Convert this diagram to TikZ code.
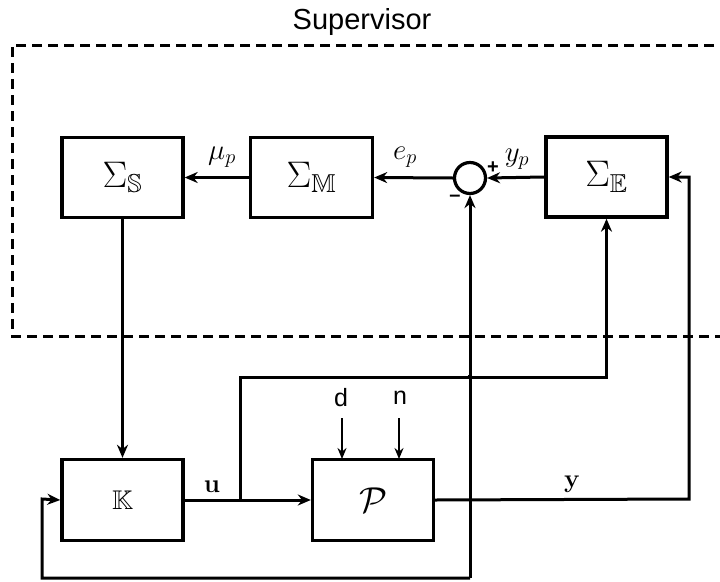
\RequirePackage{fix-cm}
\documentclass[tikz,border=0pt]{standalone}
\usepackage{amssymb}
\usepackage[no-math]{fontspec}
\newfontfamily\arial{Liberation Sans}
\usetikzlibrary{arrows.meta,calc}
\begin{document}
\begin{tikzpicture}[x=1pt,y=-1pt,
  blk/.style={draw,line width=3.4pt,inner sep=0pt,minimum width=121pt,minimum height=80pt,font=\fontsize{37}{40}\selectfont},
  con/.style={line width=3pt,-{Stealth[length=13pt,width=11pt]}},
  thin/.style={line width=2pt,-{Stealth[length=11pt,width=9pt]}},
  lab/.style={inner sep=0pt,font=\fontsize{29}{31}\selectfont},
  blab/.style={inner sep=0pt,font=\fontsize{26}{28}\selectfont},
  sans/.style={inner sep=0pt,font=\arial\fontsize{25}{27}\selectfont}]
\useasboundingbox (0,0) rectangle (720,581);
\fill[white] (0,0) rectangle (720,581);
\node[font=\arial\fontsize{29}{31}\selectfont] (sup) at (362,22) {Supervisor};
\draw[line width=3pt,dash pattern=on 10pt off 6pt] (730,45) -- (12,45) -- (12,336) -- (730,336);
\node[blk] (S) at (122.5,177.5) {$\Sigma_{\mathbb{S}}$};
\node[blk,minimum width=122pt] (M) at (311.5,177.5) {$\Sigma_{\mathbb{M}}$};
\node[blk] (E) at (606.5,177) {$\Sigma_{\mathbb{E}}$};
\node[draw,circle,line width=3.2pt,minimum size=31pt,inner sep=0pt] (sum) at (470,178) {};
\node[blk,minimum height=81pt,font=\fontsize{27}{30}\selectfont] (K) at (122.5,500) {$\mathbb{K}$};
\node[blk,minimum height=81pt,font=\fontsize{36}{40}\selectfont] (P) at (373,500) {$\mathcal{P}$};
% supervisor chain
\draw[con] (E.west) -- (sum.east);
\draw[con] (sum.west) -- (M.east);
\draw[con] (M.west) -- (S.east);
\draw[con] (S.south) -- (K.north);
% labels
\node[lab] (mu) at (222,157) {$\mu_p$};
\node[lab] (ep) at (405,157) {$e_p$};
\node[lab] (yp) at (517,159) {$y_p$};
\node[inner sep=0pt,font=\arial\bfseries\fontsize{20}{22}\selectfont] (plus) at (493,168) {+};
\node[inner sep=0pt,font=\arial\bfseries\fontsize{20}{22}\selectfont] (minus) at (455,198) {\textendash};
% plant
\coordinate (br) at (240,499);
\draw[con] (K.east) -- (P.west);
\draw[con] (br) -- (240,377) -| (E.south);
\node[blab] (u) at (212,487) {$\mathbf{u}$};
\draw[con] (P.east) -- (689,499) |- (E.east);
\node[blab] (y) at (572,484) {$\mathbf{y}$};
% disturbances
\node[sans] (d) at (341,398) {d};
\node[sans] (n) at (400,398) {n};
\draw[thin] (342,418) -- (342,459);
\draw[thin] (399,418) -- (399,459);
% feedback
\coordinate (fb) at (470,578);
\draw[con] (fb) -- (sum.south);
\draw[con] (fb) -| (42,499) -- (K.west);
\fill (470,377) circle (2.5pt);
\end{tikzpicture}
\end{document}
